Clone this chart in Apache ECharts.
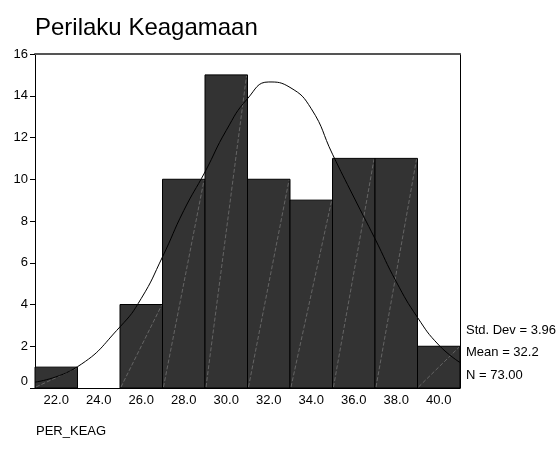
<!DOCTYPE html>
<html>
<head>
<meta charset="utf-8">
<script src="https://cdn.jsdelivr.net/npm/echarts@6/dist/echarts.min.js"></script>
<style>
html,body{margin:0;padding:0;background:#fff;}
#chart{width:560px;height:453px;}
</style>
</head>
<body>
<div id="chart"></div>
<script>
// Histogram data (bin centers, width 2)
var binCenters = [22, 24, 26, 28, 30, 32, 34, 36, 38, 40];
var counts = [1, 0, 4, 10, 15, 10, 9, 11, 11, 2];
var binWidth = 2;
// Normal curve
var curveX = [21, 23, 25, 26, 27, 28, 29, 30, 31, 32, 33, 34, 35, 36, 37, 38, 39, 40, 41];
var curveY = [0.28, 1.02, 2.93, 4.29, 6.28, 8.5, 10.35, 12.34, 13.86, 14.66, 14.4, 13.38, 11.2, 9.15, 7.15, 5.09, 3.38, 2.06, 1.22];
var xTicks = [22, 24, 26, 28, 30, 32, 34, 36, 38, 40];
var stats = ['Std. Dev = 3.96', 'Mean = 32.2', 'N = 73.00'];
var titleText = 'Perilaku Keagamaan';
var xName = 'PER_KEAG';

var FONT = '"Liberation Sans", Arial, sans-serif';
var barData = binCenters.map(function (c, i) {
  return [c - binWidth / 2, c + binWidth / 2, counts[i]];
});
var curveData = curveX.map(function (x, i) { return [x, curveY[i]]; });

var chart = echarts.init(document.getElementById('chart'));
chart.setOption({
  animation: false,
  backgroundColor: '#fff',
  title: {
    text: titleText, left: 30, top: 11,
    textStyle: { fontFamily: FONT, fontSize: 24, fontWeight: 'normal', color: '#000' }
  },
  grid: { left: 35, right: 100, top: 54, bottom: 65 },
  xAxis: [{
    type: 'value', min: 21, max: 41,
    axisLine: { show: true, lineStyle: { color: '#000', width: 1 } },
    axisTick: { show: false },
    splitLine: { show: false },
    axisLabel: {
      customValues: xTicks, margin: 6,
      formatter: function (v) { return v.toFixed(1); },
      fontFamily: FONT, fontSize: 13, color: '#000'
    }
  }, {
    type: 'value', min: 21, max: 41, position: 'top',
    axisLine: { show: true, onZero: false, lineStyle: { color: '#555', width: 2 } },
    axisTick: { show: false }, axisLabel: { show: false }, splitLine: { show: false }
  }],
  yAxis: [{
    type: 'value', min: 0, max: 16, interval: 2,
    axisLine: { show: true, lineStyle: { color: '#000', width: 1 } },
    axisTick: { show: true, length: 5, lineStyle: { color: '#000' } },
    splitLine: { show: false },
    axisLabel: {
      margin: 7, fontFamily: FONT, fontSize: 13, color: '#000',
      formatter: function (v) { return v === 0 ? '{z|0}' : String(v); },
      rich: { z: { fontFamily: FONT, fontSize: 13, color: '#000', padding: [0, 0, 14, 0] } }
    }
  }, {
    type: 'value', min: 0, max: 16, position: 'right',
    axisLine: { show: true, onZero: false, lineStyle: { color: '#000', width: 1 } },
    axisTick: { show: false }, axisLabel: { show: false }, splitLine: { show: false }
  }],
  series: [{
    type: 'custom',
    xAxisIndex: 0, yAxisIndex: 0,
    encode: { x: [0, 1], y: 2 },
    data: barData,
    renderItem: function (params, api) {
      var v = api.value(2);
      if (!v) return null;
      var p0 = api.coord([api.value(0), v]);
      var p1 = api.coord([api.value(1), 0]);
      return {
        type: 'group',
        children: [{
          type: 'rect',
          shape: { x: p0[0], y: p0[1], width: p1[0] - p0[0], height: p1[1] - p0[1] },
          style: { fill: '#333333', stroke: '#000', lineWidth: 1 }
        }, {
          type: 'line',
          shape: { x1: p0[0] + 1, y1: p1[1] - 1, x2: p1[0] - 1, y2: p0[1] + 1 },
          style: { stroke: 'rgba(170,170,170,0.6)', lineWidth: 0.7, lineDash: [4, 2] }
        }]
      };
    },
    z: 2
  }, {
    type: 'line',
    xAxisIndex: 0, yAxisIndex: 0,
    data: curveData,
    smooth: true,
    showSymbol: false,
    lineStyle: { color: '#000', width: 1 },
    z: 3
  }],
  graphic: [
    { type: 'text', left: 466, top: 324, style: { text: stats[0], font: '13px ' + FONT, fill: '#000' } },
    { type: 'text', left: 466, top: 346, style: { text: stats[1], font: '13px ' + FONT, fill: '#000' } },
    { type: 'text', left: 466, top: 369, style: { text: stats[2], font: '13px ' + FONT, fill: '#000' } },
    { type: 'text', left: 36, top: 425, style: { text: xName, font: '13px ' + FONT, fill: '#000' } }
  ]
});
</script>
</body>
</html>
